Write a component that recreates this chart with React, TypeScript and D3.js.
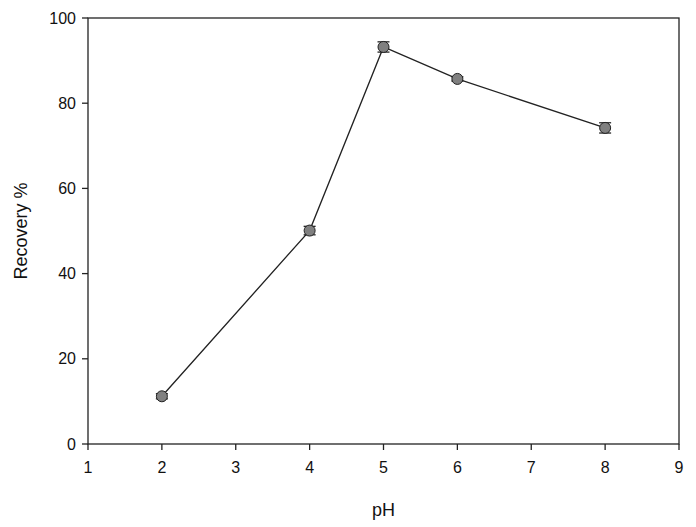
import React from "react";
import * as d3 from "d3";

const phValues = [2, 4, 5, 6, 8];
const recovery = [11.2, 50.1, 93.2, 85.7, 74.2];
const errors = [0.6, 1.0, 1.2, 0.5, 1.2];
const xTicks = [1, 2, 3, 4, 5, 6, 7, 8, 9];
const yTicks = [0, 20, 40, 60, 80, 100];

const W = 696;
const H = 527;
const margin = { top: 18, right: 17, bottom: 83, left: 88 };

export default function App() {
  const iw = W - margin.left - margin.right;
  const ih = H - margin.top - margin.bottom;
  const x = d3.scaleLinear().domain([1, 9]).range([0, iw]);
  const y = d3.scaleLinear().domain([0, 100]).range([ih, 0]);
  const line = d3
    .line<number>()
    .x((_, i) => x(phValues[i]))
    .y((d) => y(d));
  const font = "'Liberation Sans', Arial, sans-serif";

  return (
    <svg
      width={W}
      height={H}
      style={{ position: "absolute", left: 0, top: 0, background: "#fff" }}
      fontFamily={font}
    >
      <g transform={`translate(${margin.left},${margin.top})`}>
        <rect x={0} y={0} width={iw} height={ih} fill="none" stroke="#222" strokeWidth={1.3} />
        {xTicks.map((t) => (
          <g key={t} transform={`translate(${x(t)},${ih})`}>
            <line y2={6} stroke="#222" strokeWidth={1.3} />
            <text y={29} textAnchor="middle" fontSize={16} fill="#111">
              {t}
            </text>
          </g>
        ))}
        {yTicks.map((t) => (
          <g key={t} transform={`translate(0,${y(t)})`}>
            <line x2={-6} stroke="#222" strokeWidth={1.3} />
            <text x={-12} dy="0.35em" textAnchor="end" fontSize={16} fill="#111">
              {t}
            </text>
          </g>
        ))}
        <path d={line(recovery) || ""} fill="none" stroke="#222" strokeWidth={1.3} />
        {recovery.map((v, i) => {
          const cx = x(phValues[i]);
          const top = y(v + errors[i]);
          const bot = y(v - errors[i]);
          return (
            <g key={i}>
              <line x1={cx} x2={cx} y1={top} y2={bot} stroke="#111" strokeWidth={1.2} />
              <line x1={cx - 6} x2={cx + 6} y1={top} y2={top} stroke="#111" strokeWidth={1.2} />
              <line x1={cx - 6} x2={cx + 6} y1={bot} y2={bot} stroke="#111" strokeWidth={1.2} />
              <circle cx={cx} cy={y(v)} r={5.5} fill="#808080" stroke="#222" strokeWidth={1} />
            </g>
          );
        })}
      </g>
      <text
        x={margin.left + iw / 2}
        y={516}
        textAnchor="middle"
        fontSize={18}
        fill="#111"
      >
        pH
      </text>
      <text
        transform={`translate(27,${margin.top + ih / 2}) rotate(-90)`}
        textAnchor="middle"
        fontSize={18}
        fill="#111"
      >
        Recovery %
      </text>
    </svg>
  );
}
